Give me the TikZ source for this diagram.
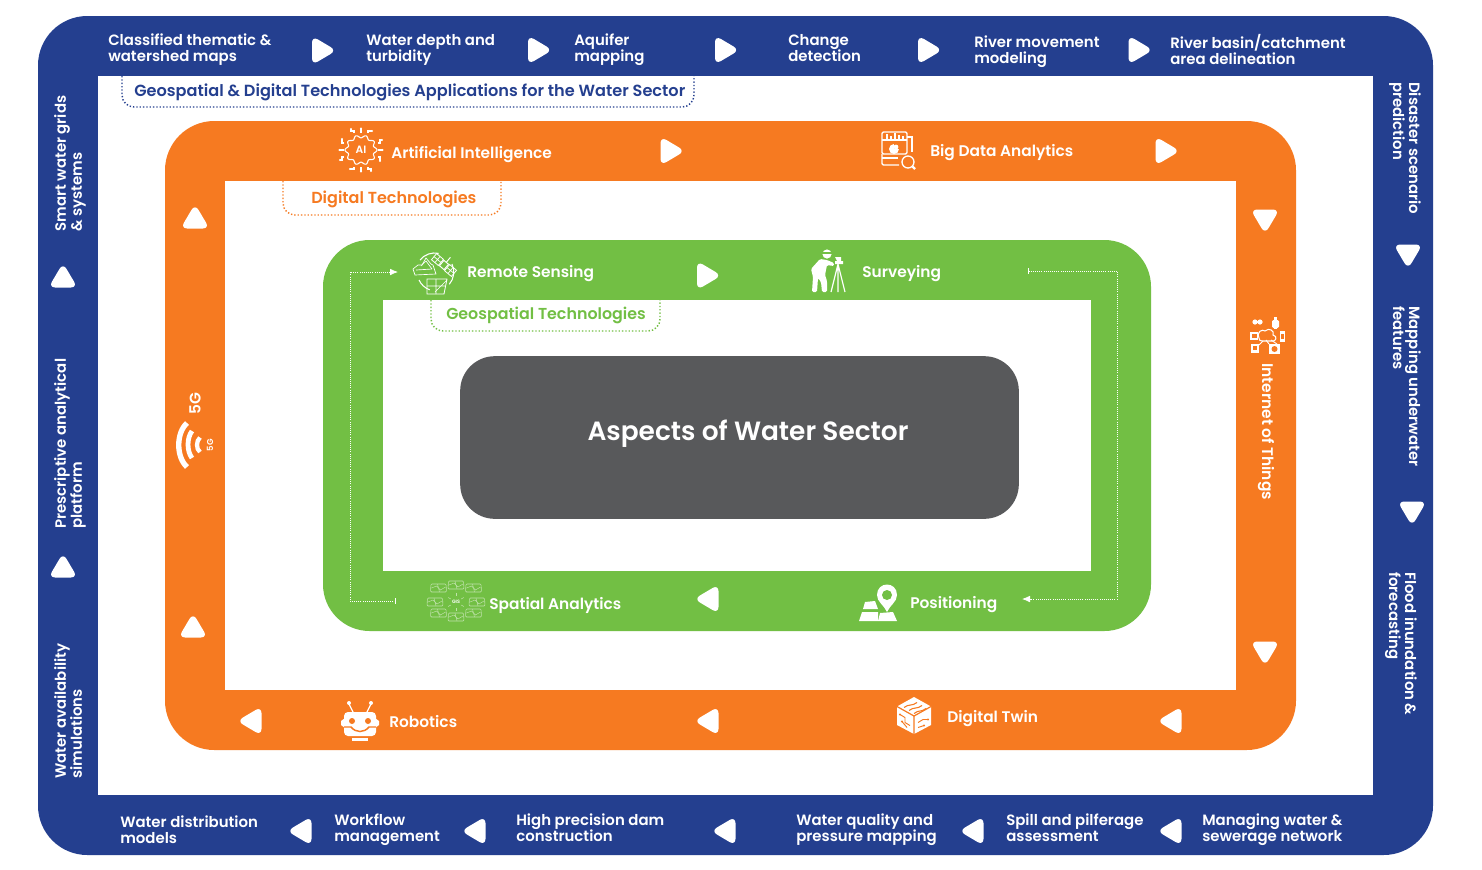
\documentclass[tikz,border=0pt]{standalone}
\usepackage{fontspec}
\setmainfont{Poppins}[BoldFont={Poppins SemiBold}]
\usetikzlibrary{arrows.meta}
\definecolor{wblue}{HTML}{243F8F}
\definecolor{worange}{HTML}{F67A21}
\definecolor{wgreen}{HTML}{72BF44}
\definecolor{wgrey}{HTML}{58595B}
\tikzset{
  x=0.75pt,y=-0.75pt,
  band/.style={fill=#1,draw=none},
  hole/.style={fill=white,draw=none},
  lab/.style={font=\fontsize{11.2}{12}\selectfont\bfseries,text=white,align=left,inner sep=0pt,anchor=west},
  tech/.style={font=\fontsize{11.55}{12}\selectfont\bfseries,text=white,inner sep=0pt,anchor=west},
  tabtitle/.style={font=\fontsize{#1}{14}\selectfont\bfseries,inner sep=0pt},
  tabline/.style={draw=#1,line width=1.1pt,dash pattern=on 1pt off 1.5pt,rounded corners=9pt},
  conn/.style={draw=white,line width=0.6pt,densely dotted},
  ico/.style={draw=white,line width=0.6pt,fill=none},
  arr/.pic={\fill[white,rounded corners=5pt] (-10.5,-14.5)--(-10.5,14.5)--(14,0)--cycle;},
}
\begin{document}
\begin{tikzpicture}
\useasboundingbox[fill=white] (0,0) rectangle (1482,869);
% ---- bands
\fill[band=wblue,rounded corners=37pt] (38,16) rectangle (1433,855);
\fill[hole] (98,76) rectangle (1373,795);
\fill[band=worange,rounded corners=37pt] (165,121) rectangle (1296,750);
\fill[hole] (225,181) rectangle (1236,690);
\fill[band=wgreen,rounded corners=35pt] (323,240) rectangle (1151,631);
\fill[hole] (383,300) rectangle (1091,571);
\node[fill=wgrey,rounded corners=26pt,minimum width=419pt,minimum height=122pt,inner sep=0pt] (core) at (739.5,437.5) {};
\node[font=\fontsize{19.8}{24}\selectfont\bfseries,text=white,inner sep=0pt] (coret) at (748,434) {Aspects of Water Sector};
% ---- tabs
\coordinate (ta) at (122,76); \coordinate (tb) at (122,107); \coordinate (tc) at (694,107); \coordinate (td) at (694,76);
\draw[tabline=wblue] (ta)--(tb)--(tc)--(td);
\node[tabtitle=12.1,text=wblue,anchor=west] (ttitle) at (134,92) {Geospatial \& Digital Technologies Applications for the Water Sector};
\coordinate (da) at (283,181); \coordinate (db) at (283,215); \coordinate (dc) at (501,215); \coordinate (dd) at (501,181);
\draw[tabline=worange] (da)--(db)--(dc)--(dd);
\node[tabtitle=12.0,text=worange,anchor=west] (tdigital) at (311,199) {Digital Technologies};
\coordinate (ga) at (431,300); \coordinate (gb) at (431,331); \coordinate (gc) at (660,331); \coordinate (gd) at (660,300);
\draw[tabline=wgreen] (ga)--(gb)--(gc)--(gd);
\node[tabtitle=11.9,text=wgreen,anchor=west] (tgeo) at (446,315) {Geospatial Technologies};
% ---- blue band labels
\node[lab] (b1) at (108,50) {Classified thematic \&\\watershed maps};
\node[lab] (b2) at (366,50) {Water depth and\\turbidity};
\node[lab] (b3) at (574,50) {Aquifer\\mapping};
\node[lab] (b4) at (788,48) {Change\\detection};
\node[lab] (b5) at (974,52) {River movement\\modeling};
\node[lab] (b6) at (1170,49) {River basin/catchment\\area delineation};
\node[lab] (b7) at (120,830) {Water distribution\\models};
\node[lab] (b8) at (334,830) {Workflow\\management};
\node[lab] (b9) at (516,828) {High precision dam\\construction};
\node[lab] (b10) at (796,830) {Water quality and\\pressure mapping};
\node[lab] (b11) at (1006,828) {Spill and pilferage\\assessment};
\node[lab] (b12) at (1202,830) {Managing water \&\\sewerage network};
\node[lab,rotate=90] (l1) at (70,232) {Smart water grids\\\& systems};
\node[lab,rotate=90] (l2) at (70,529) {Prescriptive analytical\\platform};
\node[lab,rotate=90] (l3) at (68,779) {Water availability\\simulations};
\node[lab,rotate=-90] (r1) at (1405,82) {Disaster scenario\\prediction};
\node[lab,rotate=-90] (r2) at (1407,306) {Mapping underwater\\features};
\node[lab,rotate=-90] (r3) at (1401,572) {Flood inundation \&\\forecasting};
% ---- technology labels
\node[tech] (ai) at (391,155) {Artificial Intelligence};
\node[tech] (bd) at (930,153) {Big Data Analytics};
\node[tech] (ro) at (389,722) {Robotics};
\node[tech] (dt) at (947,719) {Digital Twin};
\node[tech,rotate=-90] (iot) at (1266,363) {Internet of Things};
\node[tech,rotate=90,anchor=center] (fg) at (195,404) {5G};
\node[tech] (rs) at (467,274) {Remote Sensing};
\node[tech] (su) at (862,274) {Surveying};
\node[tech] (sa) at (489,605) {Spatial Analytics};
\node[tech] (po) at (910,605) {Positioning};
% ---- chevrons
\foreach \p in {(322.5,50.5),(538.5,50),(725.5,50),(928.5,50),(1139,50),(671,151),(1166,151),(707.5,275.5)}
  \pic at \p {arr};
\foreach \p in {(301,831),(475,831),(725,831),(973,831),(1171,831),(1171,721),(708,721),(251,721),(708,599)}
  \pic[rotate=180] at \p {arr};
\foreach \p in {(63,277),(63,567),(193,627),(195,218)}
  \pic[rotate=90] at \p {arr};
\foreach \p in {(1408,255),(1412,512),(1265,220),(1265,652)}
  \pic[rotate=-90] at \p {arr};
% ---- dotted connectors in the green band
\coordinate (c1) at (1028,271); \coordinate (c2) at (1117,271); \coordinate (c3) at (1117,599); \coordinate (c4) at (1022,599);
\draw[conn,{Bar[width=4pt,line width=0.6pt]}-{Latex[length=6pt,width=5pt]}] (c1)--(c2)--(c3)--(c4);
\coordinate (c5) at (396,601); \coordinate (c6) at (350,601); \coordinate (c7) at (350,272); \coordinate (c8) at (398,272);
\draw[conn,{Bar[width=4pt,line width=0.6pt]}-{Latex[length=6pt,width=5pt]}] (c5)--(c6)--(c7)--(c8);
% ---- AI icon
\begin{scope}[shift={(361,150)}]
  \draw[ico,line width=0.8pt] plot[domain=0:360,samples=97,smooth] ({(13.5+1.4*cos(10*\x))*1.08*cos(\x)},{(13.5+1.4*cos(10*\x))*sin(\x)});
  \node[font=\fontsize{8}{8}\selectfont\bfseries,text=white,inner sep=0pt] (aiicon) at (0,0) {AI};
  \foreach \a in {0,90,180,270}{
    \draw[ico,line width=0.9pt,rotate=\a] (17,-7)--(19,-7)--(19,-10)--(21,-10);
    \draw[ico,line width=0.9pt,rotate=\a] (17,0)--(21,0);
    \draw[ico,line width=0.9pt,rotate=\a] (17,7)--(19,7)--(19,11);
    \fill[white,rotate=\a] (21,-10) circle (1.2);
    \fill[white,rotate=\a] (21.5,0) circle (1.2);
    \fill[white,rotate=\a] (19,11) circle (1.2);}
\end{scope}
% ---- big data icon
\begin{scope}[shift={(882,132)}]
  \draw[ico,line width=1pt,rounded corners=1pt] (0,0) rectangle (25,22);
  \draw[ico,line width=1pt] (0,8)--(25,8);
  \draw[ico,line width=1pt] (25,5)--(30,5)--(30,20);
  \draw[ico,line width=1pt,rounded corners=1pt] (0,22)--(0,33)--(17,33);
  \draw[ico,line width=1pt] (0,26)--(16,26);
  \foreach \x/\h in {5/5,9/3,13/6,17/4,21/3} \fill[white] (\x-0.8,7)rectangle(\x+0.8,7-\h);
  \fill[white] (12,17) circle (5);
  \fill[worange] (12,17)--(18,17)--(18,11)--(12,11)--cycle;
  \fill[white] (14,15) circle (2.4);
  \draw[ico,line width=1pt,fill=worange] (26,30) circle (6);
  \draw[ico,line width=1.6pt] (30.5,34.5)--(33,37);
\end{scope}
% ---- surveyor icon
\begin{scope}[shift={(810,249)}]
  \fill[white] (17,5) circle (4.6);
  \fill[wgreen] (11,3.4) rectangle (23,4.6);
  \fill[white,rounded corners=1pt] (10,10)--(17,11)--(24,14)--(24,17)--(17,16)--(15,26)--(17,32)--(17,43)--(12,43)--(11,33)--(8,29)--(7,43)--(2,43)--(3,28)--(1,20)--cycle;
  \fill[white] (25,8)--(31,8)--(31,12)--(33,12)--(33,15)--(25,15)--(25,12)--(27,12)--cycle;
  \draw[ico,line width=0.9pt] (28,15)--(21,43) (28,15)--(28,43) (28,15)--(35,43);
\end{scope}
% ---- remote sensing icon
\begin{scope}[shift={(435,272)}]
  \draw[ico,line width=0.8pt] (-15,-12) arc[start angle=-141,end angle=-78,radius=19];
  \draw[ico,line width=0.8pt] (17,-8) arc[start angle=-25,end angle=40,radius=19];
  \draw[ico,line width=0.8pt] (-16,8) arc[start angle=155,end angle=110,radius=19];
  \draw[ico,line width=0.5pt] (-22,-3)--(-17,-7)--(-13,-7)--(-9,-14)--(-4,-8)--(-2,-7)--(1,2)--(-20,3)--cycle;
  \draw[ico,line width=0.5pt] (-14,-6)--(-9,-11)--(-3,-3) (-19,-2)--(-3,-3);
  \begin{scope}[shift={(9,-7)},rotate=-40]
    \draw[ico,line width=0.6pt] (-13,-4) rectangle (-4,4) (4,-4) rectangle (13,4);
    \draw[ico,line width=0.5pt] (-8.5,-4)--(-8.5,4) (8.5,-4)--(8.5,4) (-13,0)--(-4,0) (4,0)--(13,0);
    \draw[ico,line width=0.7pt] (-3,-3.5) rectangle (3,3.5);
    \draw[ico,line width=0.7pt] (0,-3.5)--(0,-10);
  \end{scope}
  \draw[ico,line width=0.6pt] (-8,7)--(12,7)--(9,22)--(-8,22)--cycle;
  \draw[ico,line width=0.5pt] (1,7)--(1,22) (-8,14)--(10,14) (0,20)--(12,8);
\end{scope}
% ---- spatial analytics icon
\begin{scope}[shift={(456,602)}]
  \node[font=\fontsize{3.6}{4}\selectfont\bfseries,text=white,inner sep=0pt] (gisicon) at (0,0) {GIS};
  \foreach \x/\y in {-17.5/-14,0/-17,17.5/-14,-21/0,21/0,-17.5/11,0/15,17.5/11}{
    \draw[line width=0.45pt,rounded corners=0.8pt,white!55!wgreen] (\x-7.5,\y-4)--(\x+7.5,\y-4)--(\x+8,\y+4)--(\x-8,\y+4)--cycle;
    \draw[line width=0.35pt,white!55!wgreen] (\x-7,\y)--(\x-2,\y-2)--(\x+2,\y+2)--(\x+7,\y-1) (\x-1,\y-4)--(\x+1,\y+4);}
  \foreach \a in {30,90,150,210,270,330}
    \draw[line width=0.4pt,white!55!wgreen] (\a:6) -- (\a:9);
\end{scope}
% ---- positioning icon
\begin{scope}[shift={(887,596)}]
  \fill[white] (0,16) .. controls (-3,9) and (-10,6) .. (-10,-1) .. controls (-10,-15) and (10,-15) .. (10,-1) .. controls (10,6) and (3,9) .. (0,16) -- cycle;
  \fill[wgreen] (0,-1) circle (5);
  \fill[white] (-22,6)--(-12,5)--(-9,13)--(-24,13)--cycle;
  \fill[white] (-25,16)--(-9,16)--(-9,25)--(-28,25)--cycle;
  \fill[white] (-7,17)--(6,16)--(10,25)--(-9,25)--cycle;
\end{scope}
% ---- robot icon
\begin{scope}[shift={(360,722)}]
  \draw[white,line width=0.9pt] (-7,-10)--(-11,-18) (7,-10)--(11,-18);
  \fill[white] (-11,-19) circle (2) (11,-19) circle (2);
  \fill[white,rounded corners=3pt] (-16,-10) rectangle (16,14);
  \fill[white] (-19,-1)--(-15,-4)--(-15,6)--(-19,3)--cycle (19,-1)--(15,-4)--(15,6)--(19,3)--cycle;
  \fill[worange] (-8,-1) circle (3) (8,-1) circle (3);
  \draw[worange,line width=1.1pt] (-16,5)--(-9,5) .. controls (-4,11) and (4,11) .. (9,5)--(16,5);
  \fill[white] (-8,16) rectangle (8,19);
\end{scope}
% ---- digital twin icon
\begin{scope}[shift={(914,715.5)}]
  \fill[white] (0,-18.5)--(17,-9)--(17,9.5)--(0,18.5)--(-17,9.5)--(-17,-9)--cycle;
  \draw[worange,line width=0.9pt] (-17,-9)--(0,0.5)--(17,-9) (0,0.5)--(0,18.5);
  \draw[worange,line width=0.8pt] (-10,-8).. controls (-5,-12) and (-2,-9) .. (3,-13) (-5,-5).. controls (0,-9) and (3,-6) .. (8,-10) (0,-2).. controls (5,-6) and (7,-3) .. (12,-7);
  \draw[worange,line width=0.7pt] (-14,-1)--(-9,2)--(-9,7)--(-4,10) (-12,6)--(-7,12) (4,7)--(9,4)--(14,4) (4,12)--(10,10);
  \fill[worange] (-14,-1) circle (1.2) (-12,6) circle (1.2) (14,4) circle (1.2) (10,10) circle (1.2);
\end{scope}
% ---- IoT icon
\begin{scope}[shift={(1267,336)}]
  \draw[ico,line width=0.8pt] (-8,2) .. controls (-11,-5) and (-4,-7) .. (-2,-5) .. controls (2,-9) and (8,-5) .. (6,-1) .. controls (11,0) and (9,6) .. (5,5) -- (-5,5) .. controls (-7,5) and (-8,4) .. (-8,2) -- cycle;
  \fill[white] (-12,-14) circle (2.6) (-7,-14) circle (2.6);
  \fill[white,rounded corners=1pt] (5,-16) rectangle (12,-8);
  \fill[white] (7,-19) rectangle (10,-7);
  \fill[white] (-17,-4) rectangle (-9,4);
  \fill[worange] (-15,-2) rectangle (-10.5,2);
  \fill[white] (13,-5) rectangle (18,6);
  \fill[worange] (14.2,-2) rectangle (16.8,3);
  \fill[white] (-16,8) rectangle (-8,17);
  \fill[worange] (-14,10) rectangle (-10,14);
  \fill[white] (2,8) rectangle (13,18);
  \fill[worange] (7.5,13) circle (3);
  \draw[ico,line width=0.7pt] (-1,4)--(2,8) (4,4)--(10,8) (-4,5)--(-8,9);
\end{scope}
% ---- 5G icon
\draw[white,line width=4pt] (187,423) .. controls (176,433) and (176,457) .. (187,467);
\draw[white,line width=3.6pt] (192,431) .. controls (186.7,438) and (186.7,451) .. (192,458);
\draw[white,line width=3.2pt] (200,437.5) .. controls (196,441) and (196,449) .. (200,452);
\node[font=\fontsize{6.4}{7}\selectfont\bfseries,text=white,inner sep=0pt,rotate=90] (fgi) at (210,445) {5G};
\end{tikzpicture}
\end{document}
